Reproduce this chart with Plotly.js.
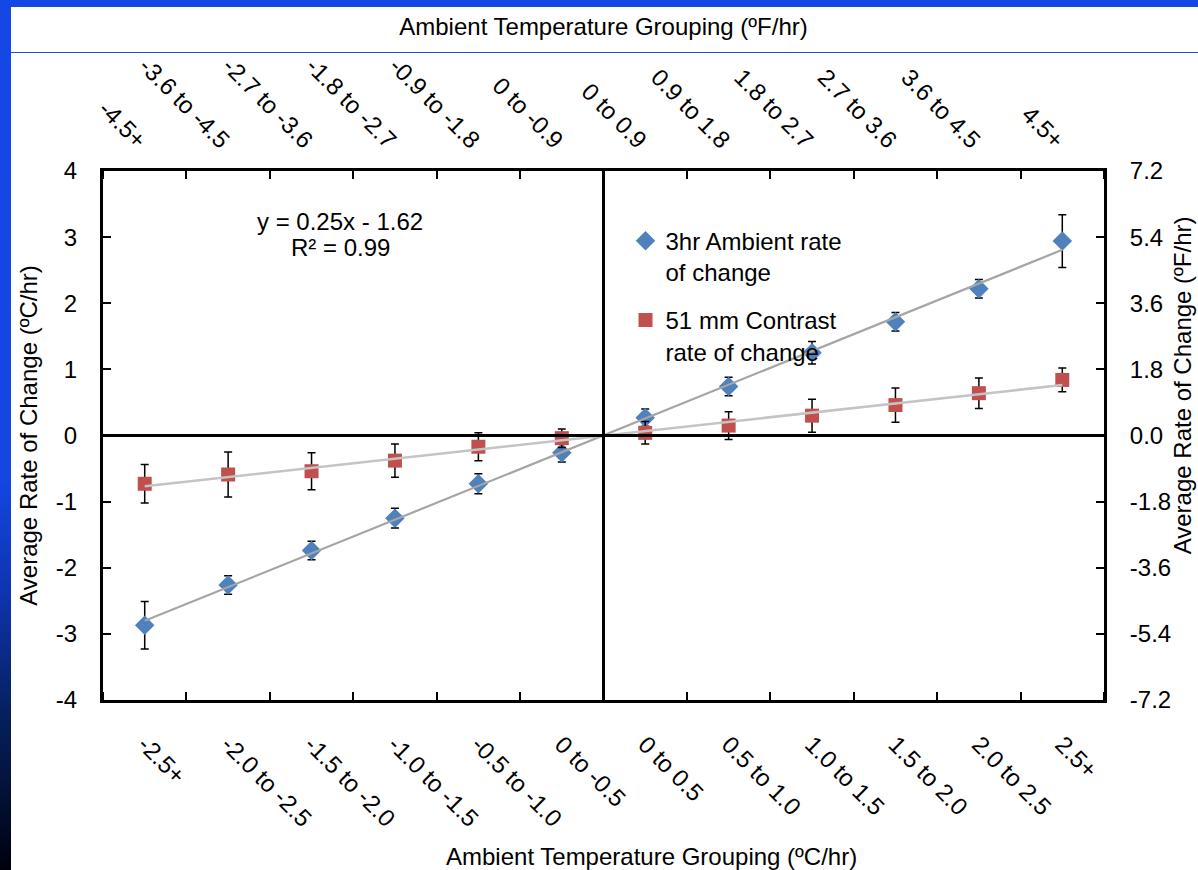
<!DOCTYPE html>
<html>
<head>
<meta charset="utf-8">
<script src="https://cdn.plot.ly/plotly-3.0.1.min.js"></script>
<style>
  html, body { margin: 0; padding: 0; background: #ffffff; }
  #wrap { position: relative; width: 1198px; height: 870px; overflow: hidden; }
  #chart { position: absolute; left: 0; top: 0; width: 1198px; height: 870px; }
  #band-top { position: absolute; left: 0; top: 0; width: 1198px; height: 7px; background: #1447e6; }
  #band-left { position: absolute; left: 0; top: 0; width: 11px; height: 870px;
    background: linear-gradient(to bottom, #1447e6 0%, #1446e2 55%, #0d35b0 68%, #06205f 82%, #021033 92%, #00000f 100%); }
  #rule { position: absolute; left: 11px; top: 52px; width: 1187px; height: 1px; background: #1c4fd6; }
</style>
</head>
<body>
<div id="wrap">
  <div id="chart"></div>
  <div id="band-top"></div>
  <div id="band-left"></div>
  <div id="rule"></div>
</div>
<script>
// Temperature-change groupings (°C/hr on the bottom axis, °F/hr on the top axis)
const groupsC = ["-2.5+", "-2.0 to -2.5", "-1.5 to -2.0", "-1.0 to -1.5", "-0.5 to -1.0", "0 to -0.5",
                 "0 to 0.5", "0.5 to 1.0", "1.0 to 1.5", "1.5 to 2.0", "2.0 to 2.5", "2.5+"];
const groupsF = ["-4.5+", "-3.6 to -4.5", "-2.7 to -3.6", "-1.8 to -2.7", "-0.9 to -1.8", "0 to -0.9",
                 "0 to 0.9", "0.9 to 1.8", "1.8 to 2.7", "2.7 to 3.6", "3.6 to 4.5", "4.5+"];

// Average rate of change (°C/hr) with error bar half-widths
const ambientRate  = [-2.87, -2.26, -1.74, -1.25, -0.73, -0.26, 0.27, 0.74, 1.25, 1.72, 2.22, 2.94];
const ambientErr   = [0.36, 0.14, 0.14, 0.15, 0.15, 0.14, 0.13, 0.14, 0.17, 0.14, 0.14, 0.40];
const contrastRate = [-0.73, -0.59, -0.54, -0.38, -0.17, -0.04, 0.04, 0.15, 0.30, 0.46, 0.64, 0.84];
const contrastErr  = [0.29, 0.34, 0.28, 0.25, 0.21, 0.14, 0.17, 0.21, 0.25, 0.26, 0.23, 0.18];

// Value-axis ticks: °C on the left, °F on the right
const ticksC = [-4, -3, -2, -1, 0, 1, 2, 3, 4];
const ticksF = [-7.2, -5.4, -3.6, -1.8, 0, 1.8, 3.6, 5.4, 7.2];
const C_TO_F = 1.8;

const titleC = "Ambient Temperature Grouping (ºC/hr)";
const titleF = "Ambient Temperature Grouping (ºF/hr)";
const titleRateC = "Average Rate of Change (ºC/hr)";
const titleRateF = "Average Rate of Change (ºF/hr)";
const equationText = "y = 0.25x - 1.62";
const r2Text = "R² = 0.99";

// Groups sit on a numeric axis centred on zero, so the zero line splits cooling from warming
const pos = groupsC.map((_, i) => i - (groupsC.length - 1) / 2);
const half = groupsC.length / 2;

// Least-squares linear trend of a series over the group positions
function trend(ys) {
  const n = ys.length;
  const mx = pos.reduce((a, b) => a + b, 0) / n;
  const my = ys.reduce((a, b) => a + b, 0) / n;
  let sxy = 0, sxx = 0;
  for (let i = 0; i < n; i++) { sxy += (pos[i] - mx) * (ys[i] - my); sxx += (pos[i] - mx) ** 2; }
  const m = sxy / sxx, b = my - m * mx;
  return pos.map(x => b + m * x);
}

const font = "Liberation Sans, Arial, sans-serif";
const blue = "#4f81bd", red = "#c0504d";

const traces = [
  {
    x: pos, y: ambientRate, type: "scatter", mode: "markers",
    name: "3hr Ambient rate<br>of change", legendgroup: "a",
    marker: { symbol: "diamond", size: 15, color: blue },
    error_y: { type: "data", array: ambientErr, visible: true, color: "#000", thickness: 1.5, width: 4 }
  },
  {
    x: pos, y: contrastRate, type: "scatter", mode: "markers",
    name: "51 mm Contrast<br>rate of change", legendgroup: "b",
    marker: { symbol: "square", size: 14, color: red },
    error_y: { type: "data", array: contrastErr, visible: true, color: "#000", thickness: 1.5, width: 4 }
  },
  {
    x: pos, y: trend(ambientRate), type: "scatter", mode: "lines", showlegend: false, hoverinfo: "skip",
    line: { color: "#a5a5a5", width: 2.2 }
  },
  {
    x: pos, y: trend(contrastRate), type: "scatter", mode: "lines", showlegend: false, hoverinfo: "skip",
    line: { color: "#c4c4c4", width: 2.5 }
  },
  // The ambient series in °F on the top/right axes (no visible marks; it ties those axes to the plot)
  {
    x: pos, y: ambientRate.map(v => v * C_TO_F), xaxis: "x2", yaxis: "y2",
    type: "scatter", mode: "none", showlegend: false, hoverinfo: "skip"
  }
];

const tickFont = { family: font, size: 24, color: "#000" };
const titleFont = { family: font, size: 24, color: "#000" };
const boundaryTicks = { ticks: "inside", ticklen: 8, tickwidth: 2, tickcolor: "#000",
                        tickmode: "linear", tick0: 0, dtick: 1, showgrid: false };

const layout = {
  width: 1198, height: 870,
  margin: { l: 103, r: 94, t: 171, b: 170 },
  paper_bgcolor: "#ffffff", plot_bgcolor: "#ffffff",
  font: { family: font, color: "#000" },
  showlegend: true,
  legend: {
    x: 0.522, y: 0.91, xanchor: "left", yanchor: "top",
    font: { family: font, size: 24, color: "#000" },
    bgcolor: "rgba(0,0,0,0)", tracegroupgap: 14, valign: "top", itemwidth: 30
  },
  xaxis: {
    type: "linear", range: [-half, half],
    tickmode: "array", tickvals: pos, ticktext: groupsC, tickangle: 45,
    ticks: "", ticklabelstandoff: 18, tickfont: tickFont,
    minor: boundaryTicks,
    showline: true, linewidth: 3, linecolor: "#000",
    zeroline: true, zerolinewidth: 3, zerolinecolor: "#000", zerolinelayer: "above traces",
    showgrid: false, fixedrange: true
  },
  xaxis2: {
    type: "linear", range: [-half, half], overlaying: "x", side: "top", anchor: "y",
    tickmode: "array", tickvals: pos, ticktext: groupsF, tickangle: 45,
    ticks: "", ticklabelstandoff: 5, tickfont: tickFont,
    minor: boundaryTicks,
    showline: true, linewidth: 3, linecolor: "#000",
    zeroline: false, showgrid: false, fixedrange: true,
    title: { text: titleF, font: titleFont, standoff: 10 }
  },
  yaxis: {
    range: [-4, 4], tickmode: "array", tickvals: ticksC, ticktext: ticksC.map(v => String(v)),
    ticks: "inside", ticklen: 8, tickwidth: 2, tickcolor: "#000",
    ticklabelstandoff: 18, tickfont: tickFont,
    showline: true, linewidth: 3, linecolor: "#000",
    zeroline: true, zerolinewidth: 3, zerolinecolor: "#000", zerolinelayer: "above traces",
    showgrid: false, fixedrange: true,
    title: { text: titleRateC, font: titleFont, standoff: 12 }
  },
  yaxis2: {
    range: [-7.2, 7.2], overlaying: "y", side: "right", anchor: "x",
    tickmode: "array", tickvals: ticksF, ticktext: ticksF.map(v => v.toFixed(1)),
    ticks: "inside", ticklen: 8, tickwidth: 2, tickcolor: "#000",
    ticklabelstandoff: 18, tickfont: tickFont,
    showline: true, linewidth: 3, linecolor: "#000",
    zeroline: false, showgrid: false, fixedrange: true
  },
  annotations: [
    { xref: "paper", yref: "paper", x: 0.237, y: 0.904, xanchor: "center", yanchor: "middle",
      text: equationText, showarrow: false, font: { family: font, size: 24, color: "#000" } },
    { xref: "paper", yref: "paper", x: 0.237, y: 0.855, xanchor: "center", yanchor: "middle",
      text: r2Text, showarrow: false, font: { family: font, size: 24, color: "#000" } },
    // bottom axis title
    { xref: "paper", yref: "paper", x: 0.548, y: -0.295, xanchor: "center", yanchor: "middle",
      text: titleC, showarrow: false, font: titleFont },
    // right axis title, tucked against the right edge of the page
    { xref: "paper", yref: "paper", x: 1.078, y: 0.595, xanchor: "center", yanchor: "middle",
      text: titleRateF, textangle: -90, showarrow: false, font: titleFont }
  ]
};

Plotly.newPlot("chart", traces, layout, { staticPlot: true, displayModeBar: false });
</script>
</body>
</html>
